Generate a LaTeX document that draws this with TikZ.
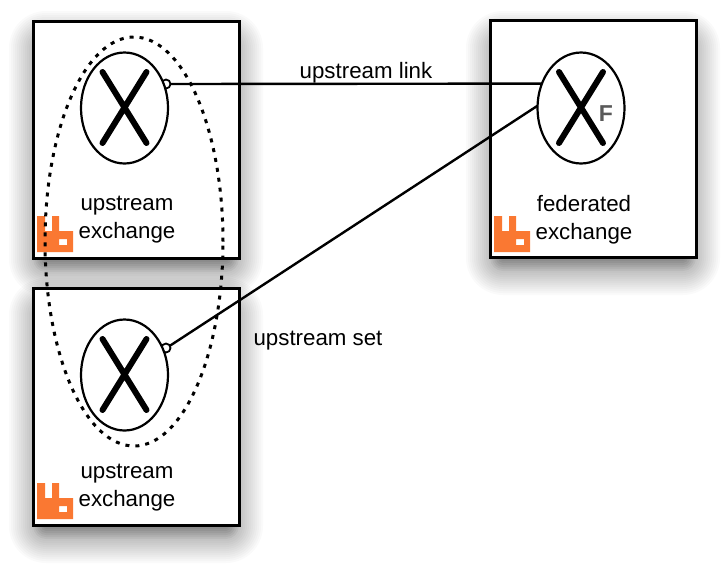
\documentclass[tikz,border=0pt]{standalone}
\usepackage{fontspec}
\setmainfont{Liberation Sans}
\usetikzlibrary{shapes.geometric}
\definecolor{rabbit}{RGB}{250,120,50}
\tikzset{
  x=1pt,y=-1pt,
  brokerbox/.style={draw=black,line width=3pt,fill=white,rectangle,minimum width=206pt,minimum height=237pt,inner sep=0pt,outer sep=0pt},
  exch/.style={draw=black,line width=2.2pt,fill=white,ellipse,minimum width=87pt,minimum height=111pt,inner sep=0pt,outer sep=0pt},
  crossline/.style={line width=6pt,line cap=round},
  conn/.style={line width=2.4pt},
  endring/.style={draw=black,line width=1.8pt,fill=white,circle,minimum size=9pt,inner sep=0pt,outer sep=0pt},
  lbl/.style={font=\fontsize{22.3}{28}\selectfont,align=center,inner sep=0pt,text=black},
  setline/.style={line width=3pt,dash pattern=on 4pt off 6pt,line cap=butt},
}
\newcommand{\softshadow}[4]{% x1 y1 x2 y2 (box)
  \foreach \e in {-12,-10,...,0}{
    \fill[black,opacity=0.05,rounded corners=\fpeval{\e+13}pt]
      (#1-\e,#2+14-\e) rectangle (#3+\e,#4+14+\e);
  }
  \foreach \e in {2,4,...,24}{
    \fill[black,opacity=0.02,rounded corners=\fpeval{\e+13}pt]
      (#1-\e,#2+14-\e) rectangle (#3+\e,#4+14+\e);
  }
}
\newcommand{\rabbitlogo}[2]{% x y top-left
  \fill[rabbit,even odd rule] (#1,#2) -- (#1+8,#2) -- (#1+8,#2+15) -- (#1+15,#2+15) -- (#1+15,#2) -- (#1+22,#2)
    -- (#1+22,#2+15) -- (#1+36,#2+15) -- (#1+36,#2+36) -- (#1,#2+36) -- cycle
    (#1+22,#2+23) rectangle (#1+30,#2+29);
}
\begin{document}
\begin{tikzpicture}
\useasboundingbox (0,0) rectangle (725,566);
\fill[white] (0,0) rectangle (725,566);
% federated broker
\softshadow{490}{21}{696}{257}
\node[brokerbox] (fbox) at (593,139) {};
% upper upstream broker
\softshadow{33}{21}{239}{258}
\node[brokerbox] (ubox) at (136,139.5) {};
% lower upstream broker
\softshadow{33}{288}{239}{525}
\node[brokerbox] (lbox) at (136,406.5) {};
% logos
\rabbitlogo{37}{216}
\rabbitlogo{37}{483}
\rabbitlogo{494}{216}
% link end rings, partly behind the exchanges
\node[endring] (uring) at (166,84) {};
\node[endring] (lring) at (166,348) {};
% exchanges
\node[exch] (uex) at (124.5,108) {};
\node[exch] (lex) at (124.5,375) {};
\node[exch] (fex) at (581,108) {};
\draw[crossline] (102.5,72) -- (146.5,143) (146.5,72) -- (102.5,143);
\draw[crossline] (102.5,339) -- (146.5,410) (146.5,339) -- (102.5,410);
\draw[crossline] (559,72) -- (603,143) (603,72) -- (559,143);
\node[font=\fontsize{23}{23}\selectfont\bfseries,text=black!65,inner sep=0pt] (fmark) at (606,114) {F};
% texts
\node[lbl] (utext) at (127,220) {upstream\\exchange};
\node[lbl] (ltext) at (127,488) {upstream\\exchange};
\node[lbl] (ftext) at (584,220) {federated\\exchange};
\node[lbl] (linklabel) at (366,73) {upstream link};
\node[lbl] (setlabel) at (318,341) {upstream set};
% connectors
\draw[conn] (uring.east) -- (fex.148.5);
\draw[conn] (lring.30) -- (fex.177);
% upstream set
\node[ellipse,minimum width=178pt,minimum height=409pt,inner sep=0pt,outer sep=0pt,setline,draw=black] (uset) at (134,241.5) {};
\end{tikzpicture}
\end{document}
